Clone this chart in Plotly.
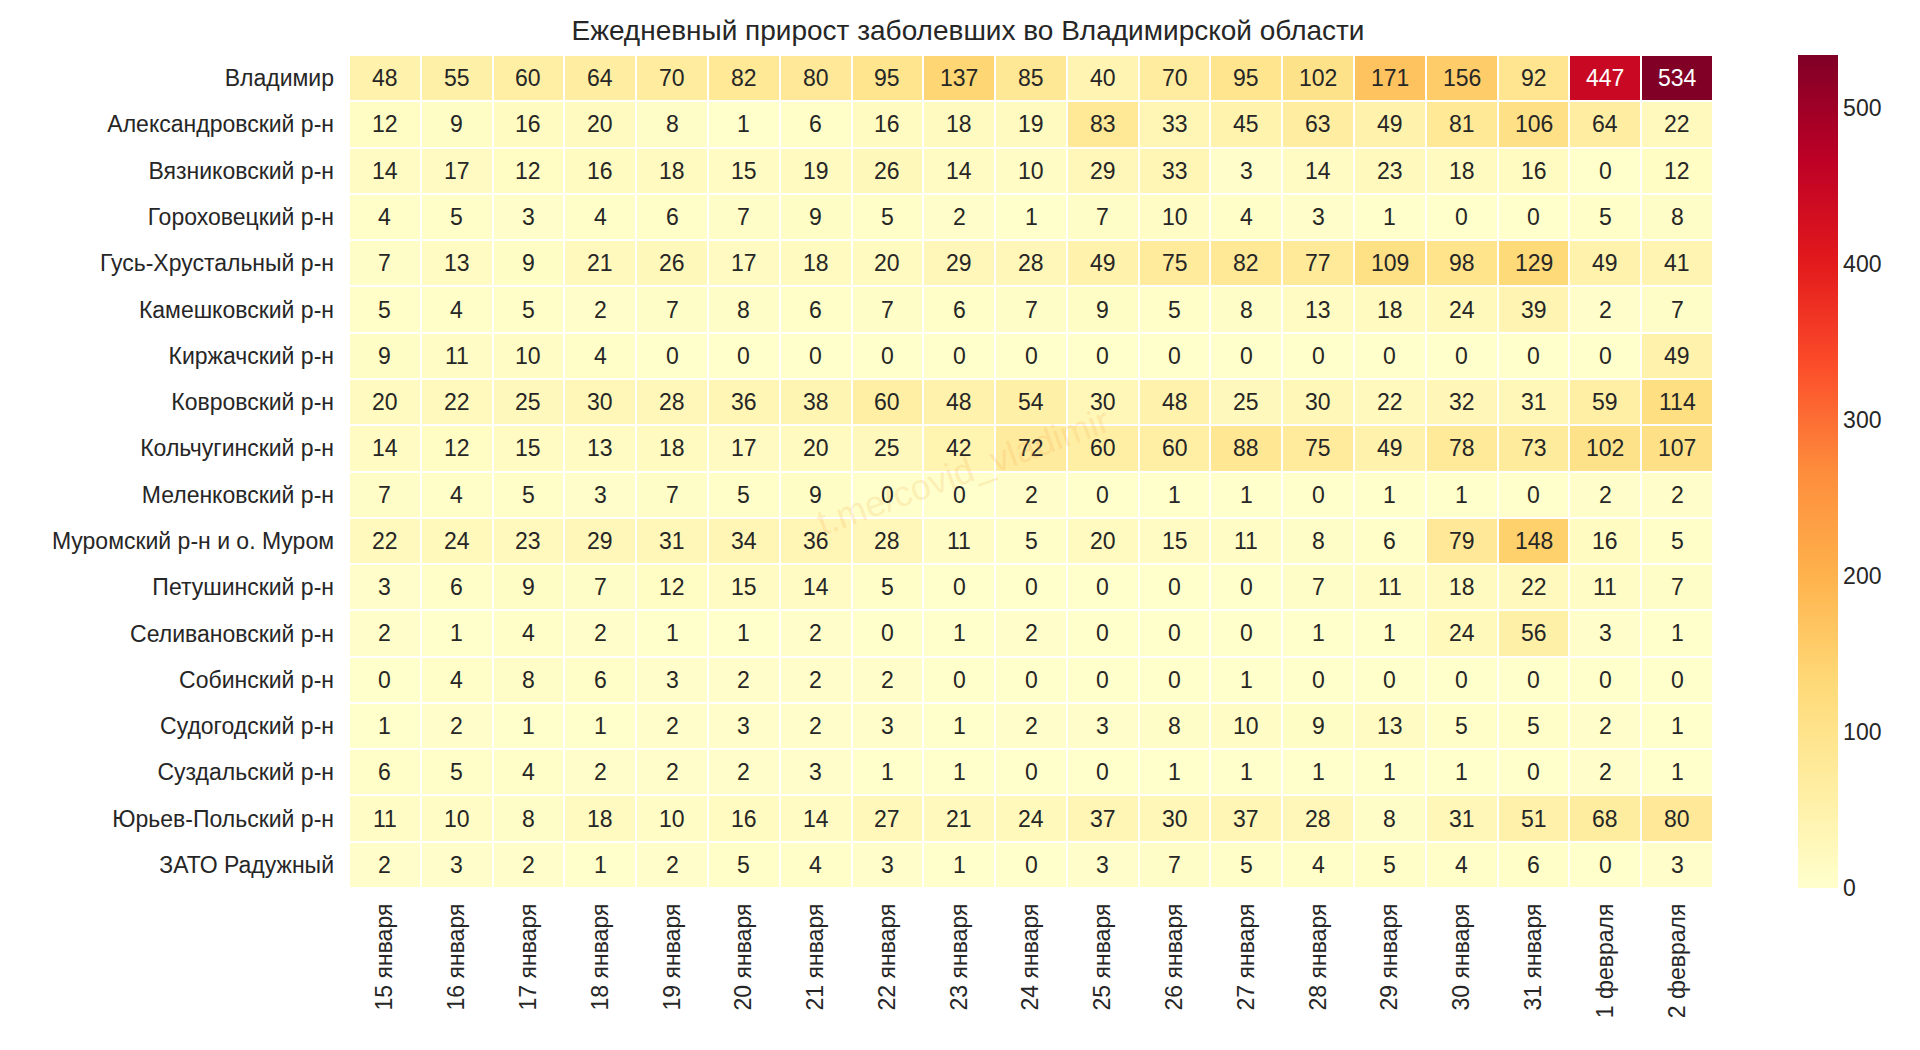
import plotly.graph_objects as go

dates = ["15 января", "16 января", "17 января", "18 января", "19 января", "20 января",
         "21 января", "22 января", "23 января", "24 января", "25 января", "26 января",
         "27 января", "28 января", "29 января", "30 января", "31 января", "1 февраля", "2 февраля"]
districts = ["Владимир", "Александровский р-н", "Вязниковский р-н", "Гороховецкий р-н",
             "Гусь-Хрустальный р-н", "Камешковский р-н", "Киржачский р-н", "Ковровский р-н",
             "Кольчугинский р-н", "Меленковский р-н", "Муромский р-н и о. Муром",
             "Петушинский р-н", "Селивановский р-н", "Собинский р-н", "Судогодский р-н",
             "Суздальский р-н", "Юрьев-Польский р-н", "ЗАТО Радужный"]
vladimir = [48, 55, 60, 64, 70, 82, 80, 95, 137, 85, 40, 70, 95, 102, 171, 156, 92, 447, 534]
aleksandrov = [12, 9, 16, 20, 8, 1, 6, 16, 18, 19, 83, 33, 45, 63, 49, 81, 106, 64, 22]
vyazniki = [14, 17, 12, 16, 18, 15, 19, 26, 14, 10, 29, 33, 3, 14, 23, 18, 16, 0, 12]
gorokhovets = [4, 5, 3, 4, 6, 7, 9, 5, 2, 1, 7, 10, 4, 3, 1, 0, 0, 5, 8]
gus = [7, 13, 9, 21, 26, 17, 18, 20, 29, 28, 49, 75, 82, 77, 109, 98, 129, 49, 41]
kameshkovo = [5, 4, 5, 2, 7, 8, 6, 7, 6, 7, 9, 5, 8, 13, 18, 24, 39, 2, 7]
kirzhach = [9, 11, 10, 4, 0, 0, 0, 0, 0, 0, 0, 0, 0, 0, 0, 0, 0, 0, 49]
kovrov = [20, 22, 25, 30, 28, 36, 38, 60, 48, 54, 30, 48, 25, 30, 22, 32, 31, 59, 114]
kolchugino = [14, 12, 15, 13, 18, 17, 20, 25, 42, 72, 60, 60, 88, 75, 49, 78, 73, 102, 107]
melenki = [7, 4, 5, 3, 7, 5, 9, 0, 0, 2, 0, 1, 1, 0, 1, 1, 0, 2, 2]
murom = [22, 24, 23, 29, 31, 34, 36, 28, 11, 5, 20, 15, 11, 8, 6, 79, 148, 16, 5]
petushki = [3, 6, 9, 7, 12, 15, 14, 5, 0, 0, 0, 0, 0, 7, 11, 18, 22, 11, 7]
selivanovo = [2, 1, 4, 2, 1, 1, 2, 0, 1, 2, 0, 0, 0, 1, 1, 24, 56, 3, 1]
sobinka = [0, 4, 8, 6, 3, 2, 2, 2, 0, 0, 0, 0, 1, 0, 0, 0, 0, 0, 0]
sudogda = [1, 2, 1, 1, 2, 3, 2, 3, 1, 2, 3, 8, 10, 9, 13, 5, 5, 2, 1]
suzdal = [6, 5, 4, 2, 2, 2, 3, 1, 1, 0, 0, 1, 1, 1, 1, 1, 0, 2, 1]
yuryev = [11, 10, 8, 18, 10, 16, 14, 27, 21, 24, 37, 30, 37, 28, 8, 31, 51, 68, 80]
raduzhny = [2, 3, 2, 1, 2, 5, 4, 3, 1, 0, 3, 7, 5, 4, 5, 4, 6, 0, 3]

z = [vladimir, aleksandrov, vyazniki, gorokhovets, gus, kameshkovo, kirzhach, kovrov,
     kolchugino, melenki, murom, petushki, selivanovo, sobinka, sudogda, suzdal, yuryev, raduzhny]

fig = go.Figure()
fig.add_trace(go.Heatmap(
    z=z, x=dates, y=districts, colorscale="YlOrRd", zmin=0, zmax=534,
    xgap=2, ygap=2, hoverongaps=False,
    colorbar=dict(thickness=40, len=1, y=0.5, x=1.055, outlinewidth=0, ypad=0,
                  tickvals=[0, 100, 200, 300, 400, 500], ticks="",
                  tickfont=dict(size=23, color="#262626")),
))

annotations = []
for i, row in enumerate(z):
    for j, v in enumerate(row):
        annotations.append(dict(
            x=dates[j], y=districts[i], text=str(v), showarrow=False,
            font=dict(size=23, color="white" if v > 300 else "#262626")))
annotations.append(dict(
    x=0.45, y=0.5, xref="paper", yref="paper", text="t.me/covid_vladimir",
    showarrow=False, textangle=-20, font=dict(size=36, color="rgba(240,170,80,0.2)")))

fig.update_layout(
    title=dict(text="Ежедневный прирост заболевших во Владимирской области",
               x=0.5, xanchor="center", y=0.988, font=dict(size=28, color="#262626")),
    font=dict(family="Liberation Sans, Arial", color="#262626"),
    width=1920, height=1050,
    margin=dict(l=341, r=215, t=47, b=170),
    plot_bgcolor="white", paper_bgcolor="white",
    xaxis=dict(tickangle=-90, tickfont=dict(size=23), showgrid=False, ticks="",
               ticklabelstandoff=10),
    yaxis=dict(autorange="reversed", tickfont=dict(size=23), showgrid=False, ticks="",
               ticklabelstandoff=14),
    annotations=annotations,
)
fig.write_html("out.html")
